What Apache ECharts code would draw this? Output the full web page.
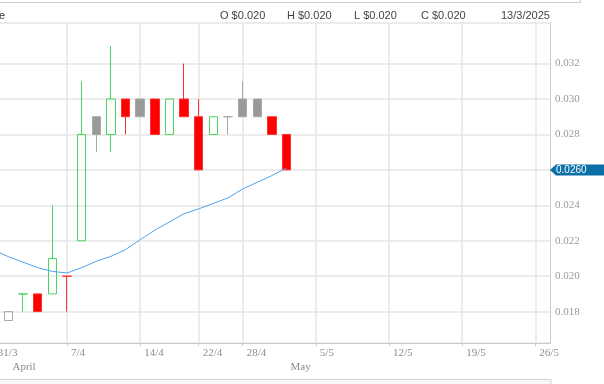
<!DOCTYPE html>
<html><head><meta charset="utf-8">
<script src="https://cdn.jsdelivr.net/npm/echarts@6/dist/echarts.min.js"></script>
<style>html,body{margin:0;padding:0;background:#fff;overflow:hidden;width:604px;height:384px;position:relative}
#c{position:absolute;left:-20px;top:0;width:624px;height:384px}</style>
</head><body><div id="c"></div>
<script>
// ---- data ----
const dates = ['31/3','1/4','2/4','3/4','4/4','7/4','8/4','9/4','10/4','11/4','14/4','15/4','16/4','17/4',
  '22/4','23/4','24/4','28/4','29/4','30/4','1/5','2/5','5/5','6/5','7/5','8/5','9/5','12/5','13/5','14/5',
  '15/5','16/5','19/5','20/5','21/5','22/5','23/5','26/5','27/5'];
const opens  = [null,0.0175,0.019,0.019,0.019,0.020,0.022,0.029,0.028,0.030,0.030,0.030,0.028,0.030,0.029,0.028,0.029,0.030,0.030,0.029,0.028];
const highs  = [null,0.018,0.019,0.019,0.024,0.020,0.031,0.029,0.033,0.030,0.030,0.030,0.030,0.032,0.030,0.029,0.029,0.031,0.030,0.029,0.028];
const lows   = [null,0.0175,0.018,0.018,0.019,0.018,0.022,0.027,0.027,0.028,0.029,0.028,0.028,0.029,0.026,0.028,0.028,0.029,0.029,0.028,0.026];
const closes = [null,0.018,0.019,0.018,0.021,0.020,0.028,0.028,0.030,0.029,0.029,0.028,0.030,0.029,0.026,0.029,0.029,0.029,0.029,0.028,0.026];
const maValues = [0.02147,0.02110,0.02079,0.02048,0.02027,0.02018,0.02048,0.02084,0.02112,0.02150,0.02206,
  0.02260,0.02306,0.02353,0.02380,0.02411,0.02442,0.02492,0.02530,0.02568,0.02611];
const weekTickLabels = ['31/3','7/4','14/4','22/4','28/4','5/5','12/5','19/5','26/5'];
const monthStarts = ['1/4','1/5'];
const monthNames = ['April','May'];
const yMin = 0.01623, yMax = 0.03429, yStep = 0.002;
const headerLabels = ['O $0.020','H $0.020','L $0.020','C $0.020','13/3/2025'];
const headerCut = 'e';

// ---- styles ----
const SHIFT = 20; // chart canvas starts 20px left of the visible window
const GREEN = {fill:'#4cd463', stroke:'#4cd463'};
const RED = {fill:'#ff0000', stroke:'#ff3030'};
const GRAY = {fill:'#999999', stroke:'#a8a8a8'};
const SERIF = '"Liberation Serif", "DejaVu Serif", serif';
const SANS = '"Liberation Sans", Arial, sans-serif';
const GRIDC = '#e6e6e6';

const candleData = dates.map((d, i) => {
  if (i >= closes.length || closes[i] == null) return '-';
  const prev = (i > 0 && closes[i-1] != null) ? closes[i-1] : closes[i];
  const c = closes[i] > prev ? GREEN : (closes[i] < prev ? RED : GRAY);
  const hollow = closes[i] > opens[i];
  const fill = hollow ? 'rgba(0,0,0,0)' : c.fill;
  return {value:[opens[i], closes[i], lows[i], highs[i]],
    itemStyle:{color:fill, color0:fill, borderColor:c.stroke, borderColor0:c.stroke, borderWidth:1}};
});

// a tick too close to the top edge is not drawn (no line, no label)
const nearTop = (v) => v < yMax - 1e-9 && v > yMax - yStep / 2;
const tickValues = [yMin];
for (let k = Math.ceil(yMin / yStep); k * yStep < yMax - 1e-9; k++) tickValues.push(+(k * yStep).toFixed(6));
tickValues.push(yMax);
const splitColors = tickValues.map(v => nearTop(v) ? 'rgba(0,0,0,0)' : GRIDC);

const chart = echarts.init(document.getElementById('c'), null, {renderer:'canvas'});
const gridRight = 54;
const option = {
  animation:false,
  backgroundColor:'#ffffff',
  grid:{left:SHIFT - 6.18, right:gridRight, top:23, bottom:41, containLabel:false},
  xAxis:[{
    type:'category', data:dates, boundaryGap:false, position:'bottom',
    axisLine:{show:true, lineStyle:{color:'#cccccc', width:1}},
    axisTick:{show:true, length:3, interval:(i,v)=>weekTickLabels.includes(v), lineStyle:{color:'#cccccc'}},
    splitLine:{show:true, interval:(i,v)=>weekTickLabels.includes(v), lineStyle:{color:GRIDC, width:1.5}},
    axisLabel:{show:true, interval:(i,v)=>weekTickLabels.includes(v), align:'left', padding:[0,0,0,4],
      margin:5, color:'#8c8c8c', fontFamily:SERIF, fontSize:11}
  },{
    type:'category', data:dates, boundaryGap:false, position:'bottom', offset:14,
    axisLine:{show:false}, axisTick:{show:false}, splitLine:{show:false},
    axisLabel:{show:true, interval:(i,v)=>monthStarts.includes(v), align:'left', padding:[0,0,0,4],
      margin:5, color:'#8c8c8c', fontFamily:SERIF, fontSize:11,
      formatter:(v)=>{const k=monthStarts.indexOf(v); return k>=0?monthNames[k]:'';}}
  }],
  yAxis:{
    type:'value', position:'right', min:yMin, max:yMax, splitNumber:9, minInterval:yStep, maxInterval:yStep, scale:true,
    axisLine:{show:true, lineStyle:{color:'#cccccc', width:1}},
    axisTick:{show:false},
    splitLine:{show:true, lineStyle:{color:splitColors, width:1.5}},
    axisLabel:{show:true, margin:5, color:'#999999', fontFamily:SERIF, fontSize:11,
      formatter:(v)=> (Math.abs(v / yStep - Math.round(v / yStep)) < 1e-6 && !nearTop(v)) ? v.toFixed(3) : ''}
  },
  series:[{
    type:'candlestick', data:candleData, barWidth:9, xAxisIndex:0
  },{
    type:'line', data:maValues, xAxisIndex:0, showSymbol:false, symbol:'none', smooth:false,
    lineStyle:{color:'#4da3ee', width:1}, z:3
  }]
};
chart.setOption(option);

// header and frame elements, plus last-price tag placed through the axis scale
const lastIdx = closes.length - 1;
const yLast = chart.convertToPixel({yAxisIndex:0}, closes[lastIdx]);
const axisX = 624 - gridRight;
const headerX = [220, 287, 354, 421, 501];
const graphics = [
  {type:'line', shape:{x1:0, y1:2.5, x2:580 + SHIFT, y2:2.5}, style:{stroke:'#cccccc', lineWidth:1}},
  {type:'line', shape:{x1:580.5 + SHIFT, y1:0, x2:580.5 + SHIFT, y2:3}, style:{stroke:'#cccccc', lineWidth:1}},
  {type:'text', x:SHIFT - 1, y:16, style:{text:headerCut, font:'11px ' + SANS, fill:'#333333', verticalAlign:'middle', textVerticalAlign:'middle'}},
  {type:'rect', shape:{x:0, y:379.5, width:551 + SHIFT, height:10}, style:{fill:'#f7f7f7', stroke:'#d4d4d4', lineWidth:1}},
  {type:'polygon', shape:{points:[[axisX, yLast],[axisX+6, yLast-5.5],[624, yLast-5.5],[624, yLast+5.5],[axisX+6, yLast+5.5]]},
    style:{fill:'#0b6fa8'}, z:10},
  {type:'text', x:axisX+6, y:yLast, style:{text:closes[lastIdx].toFixed(4), font:'10px ' + SANS, fill:'#ffffff',
    textVerticalAlign:'middle', verticalAlign:'middle'}, z:11}
];
headerLabels.forEach((t, i) => {
  graphics.push({type:'text', x:headerX[i] + SHIFT, y:16, style:{text:t, font:'11px ' + SANS, fill:'#444444', verticalAlign:'middle', textVerticalAlign:'middle'}});
});
chart.setOption({graphic:graphics});
</script>
</body></html>
